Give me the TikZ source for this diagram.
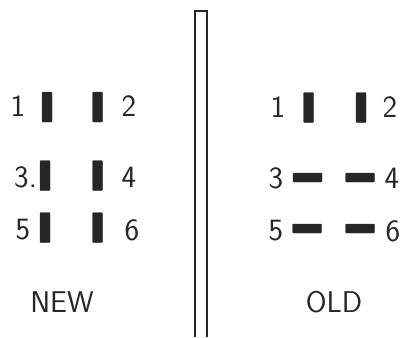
\documentclass[tikz,border=0pt]{standalone}
\begin{document}
\begin{tikzpicture}[x=1pt,y=-1pt,
  pin/.style={fill=black!85,draw=black!85,line width=0.4pt,rounded corners=1pt,inner sep=0pt,minimum width=10pt,minimum height=30pt},
  hpin/.style={fill=black!85,draw=black!85,line width=0.4pt,rounded corners=1pt,inner sep=0pt,minimum width=29pt,minimum height=9pt},
  num/.style={inner sep=0pt,font=\sffamily\fontsize{31}{34}\selectfont,text=black!85},
  word/.style={inner sep=0pt,font=\sffamily\fontsize{30}{34}\selectfont,text=black!85},
  wall/.style={draw=black!85,line width=1.1pt}]
\useasboundingbox (0,0) rectangle (403,337);
% divider
\coordinate (wl) at (195,337);
\coordinate (wtl) at (195,11);
\coordinate (wtr) at (207,11);
\coordinate (wr) at (207,337);
\draw[wall] (wl) -- (wtl) -- (wtr) -- (wr);
% NEW panel
\node[pin] (n1) at (47,107) {};
\node[pin] (n2) at (97.5,107) {};
\node[pin] (n3) at (45,175.5) {};
\node[pin] (n4) at (97.5,175.5) {};
\node[pin] (n5) at (45,227.5) {};
\node[pin] (n6) at (97.5,227.5) {};
\node[num] (ln1) at (18,106) {1};
\node[num] (ln2) at (129,106) {2};
\node[num,anchor=west] (ln3) at (14,177) {3.};
\node[num] (ln4) at (129,177) {4};
\node[num] (ln5) at (23,230) {5};
\node[num] (ln6) at (132,230) {6};
\node[word] (new) at (62,302) {NEW};
% OLD panel
\node[pin] (o1) at (308.5,107.5) {};
\node[pin] (o2) at (361,107.5) {};
\node[hpin] (o3) at (307.5,177.5) {};
\node[hpin] (o4) at (360,177.5) {};
\node[hpin] (o5) at (307,228.5) {};
\node[hpin] (o6) at (360,228.5) {};
\node[num] (lo1) at (278,107) {1};
\node[num] (lo2) at (390,107) {2};
\node[num] (lo3) at (276,178) {3};
\node[num] (lo4) at (392,178) {4};
\node[num] (lo5) at (276,231) {5};
\node[num] (lo6) at (393,231) {6};
\node[word] (old) at (334,302) {OLD};
\end{tikzpicture}
\end{document}
